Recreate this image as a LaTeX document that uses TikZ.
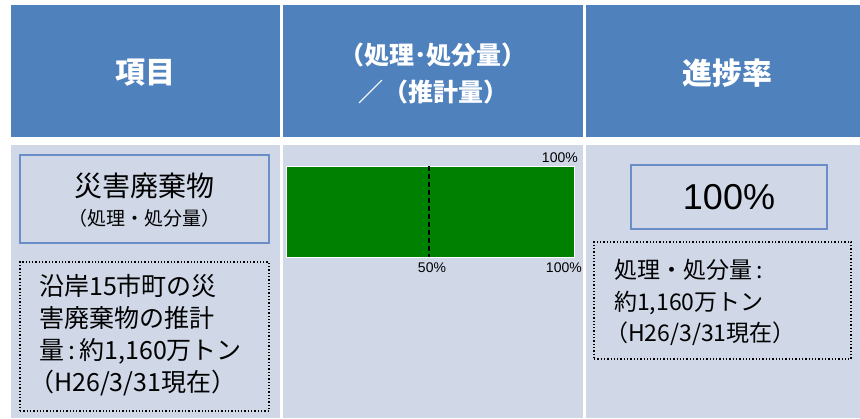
\documentclass[tikz,border=0pt]{standalone}
\usepackage{fontspec}
\setmainfont{Noto Sans CJK JP}
\newfontfamily\arialfont{Liberation Sans}
\definecolor{hdr}{HTML}{4F81BD}
\definecolor{bodyc}{HTML}{D0D8E8}
\definecolor{boxb}{HTML}{6C8EC8}
\definecolor{bar}{HTML}{008000}
\begin{document}
\begin{tikzpicture}[x=1pt,y=-1pt,
  hcell/.style={fill=hdr, draw=none, inner sep=0pt, text=white, font=\bfseries, align=center},
  bcell/.style={fill=bodyc, draw=none, inner sep=0pt},
  bluebox/.style={draw=boxb, line width=1.5pt, fill=bodyc, inner sep=0pt, align=center},
  dotbox/.style={draw=black, dotted, line width=1.3pt, inner sep=0pt},
  small/.style={font=\arialfont\fontsize{14}{16}\selectfont, inner sep=0pt}]
\fill[white] (0,0) rectangle (860,418);
\useasboundingbox (0,0) rectangle (860,418);
% header cells
\node[hcell, minimum width=269, minimum height=132] (h1) at (145.5,71) {};
\node[hcell, minimum width=300, minimum height=132] (h2) at (433,71) {};
\node[hcell, minimum width=274, minimum height=132] (h3) at (723,71) {};
\node[text=white, font=\fontsize{30}{32}\bfseries\selectfont] (t1) at (145.5,73) {項目};
\node[text=white, font=\fontsize{25}{37}\bfseries\selectfont, align=center] (t2) at (433,73) {（処理･処分量）\\／（推計量）};
\node[text=white, font=\fontsize{30}{32}\bfseries\selectfont] (t3) at (727,73) {進捗率};
% body cells
\node[bcell, minimum width=269, minimum height=273] (b1) at (145.5,281.5) {};
\node[bcell, minimum width=300, minimum height=273] (b2) at (433,281.5) {};
\node[bcell, minimum width=274, minimum height=273] (b3) at (723,281.5) {};
% left column
\node[bluebox, minimum width=249, minimum height=88] (lb) at (144.5,199) {};
\node[font=\fontsize{28}{30}\selectfont] (lbt) at (144.5,186) {災害廃棄物};
\node[font=\fontsize{19}{21}\selectfont] (lbs) at (144.5,218) {（処理・処分量）};
\node[dotbox, minimum width=249, minimum height=149] (ld) at (144.5,336.5) {};
\node[font=\fontsize{25}{32}\selectfont, align=left, anchor=north west, inner sep=0pt] (ldt) at (39,274) {沿岸15市町の災\\害廃棄物の推計\\量\,:\,約1,160万トン\\\hspace*{-0.4em}（H26/3/31現在）};
% bar column
\node[fill=bar, draw=white, line width=0.8pt, minimum width=288, minimum height=91, inner sep=0pt] (bar) at (430,211.5) {};
\coordinate (d1) at (429,166);
\coordinate (d2) at (429,257);
\draw[black, dashed, line width=1.8pt, dash pattern=on 5pt off 3pt] (d1) -- (d2);
\node[small, anchor=south east] (l100a) at (578,163) {100\%};
\node[small] (l50) at (432,268) {50\%};
\node[small, anchor=east] (l100b) at (582,268) {100\%};
% right column
\node[bluebox, minimum width=196, minimum height=64] (rb) at (729,197) {};
\node[font=\arialfont\fontsize{36}{38}\selectfont] (rbt) at (729,197) {100\%};
\node[dotbox, minimum width=257, minimum height=117] (rd) at (722.5,300.5) {};
\node[font=\fontsize{23}{31.5}\selectfont, align=left, anchor=north west, inner sep=0pt] (rdt) at (614,259) {処理・処分量\,:\\約1,160万トン\\\hspace*{-0.4em}（H26/3/31現在）};
\end{tikzpicture}
\end{document}
